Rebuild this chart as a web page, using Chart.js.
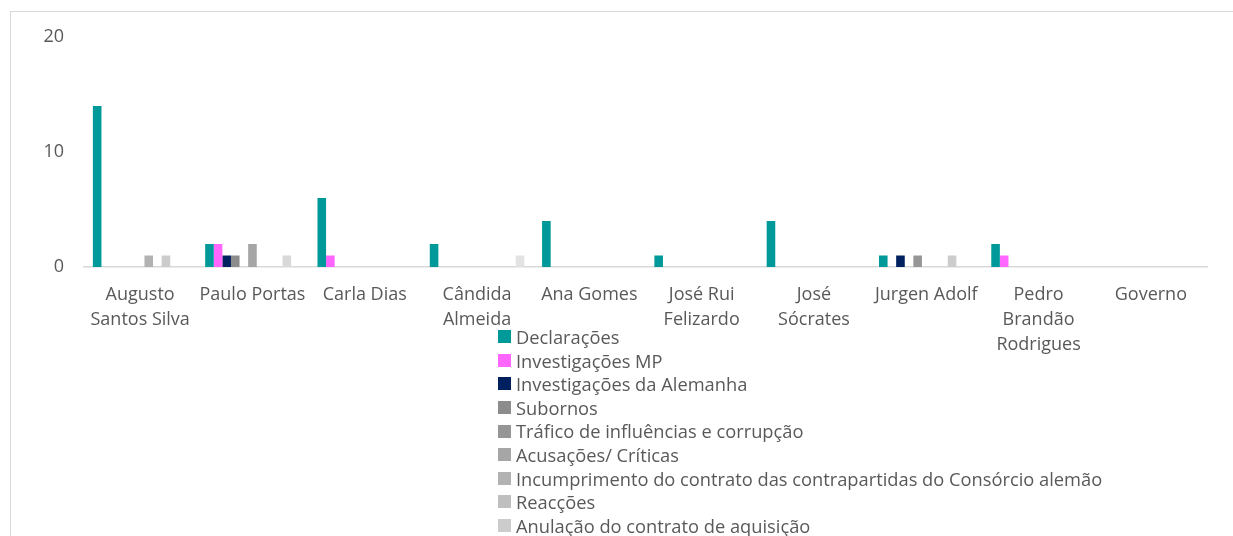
<!DOCTYPE html>
<html>
<head>
<meta charset="utf-8">
<script src="https://cdn.jsdelivr.net/npm/chart.js@4.4.1/dist/chart.umd.min.js"></script>
<style>
  html, body { margin: 0; padding: 0; background: #ffffff; overflow: hidden; }
  #wrap { position: relative; width: 1233px; height: 536px; overflow: hidden; }
  #frame { position: absolute; left: 10px; top: 11px; width: 2000px; height: 2000px; border-left: 1px solid #d9d9d9; border-top: 1px solid #d9d9d9; box-sizing: border-box; }
  #c { position: absolute; left: 0; top: 0; }
  #legend { position: absolute; left: 498px; top: 325px; font-family: "Open Sans", "Noto Sans", sans-serif; font-size: 18.3px; color: #595959; }
  .item { height: 23.6px; line-height: 23.6px; white-space: nowrap; display: flex; align-items: center; }
  .box { width: 13px; height: 13px; margin-right: 5px; flex: none; }
</style>
</head>
<body>
<div id="wrap">
  <div id="frame"></div>
  <canvas id="c" width="1233" height="536"></canvas>
  <div id="legend"></div>
</div>
<script>
// ---- data ----
const categories = [
  ["Augusto", "Santos Silva"], "Paulo Portas", "Carla Dias", ["Cândida", "Almeida"], "Ana Gomes",
  ["José Rui", "Felizardo"], ["José", "Sócrates"], "Jurgen Adolf", ["Pedro", "Brandão", "Rodrigues"], "Governo"
];
const seriesNames = [
  "Declarações", "Investigações MP", "Investigações da Alemanha", "Subornos",
  "Tráfico de influências e corrupção", "Acusações/ Críticas",
  "Incumprimento do contrato das contrapartidas do Consórcio alemão", "Reacções",
  "Anulação do contrato de aquisição", "Série 10", "Série 11"
];
const seriesColors = ["#009999", "#ff66ff", "#002060", "#8c8c8c", "#969696", "#a6a6a6", "#b2b2b2", "#bfbfbf", "#cccccc", "#d9d9d9", "#e3e3e3"];
const declaracoes      = [14, 2, 6, 2, 4, 1, 4, 1, 2, 0];
const investigacoesMP  = [0, 2, 1, 0, 0, 0, 0, 0, 1, 0];
const investAlemanha   = [0, 1, 0, 0, 0, 0, 0, 1, 0, 0];
const subornos         = [0, 1, 0, 0, 0, 0, 0, 0, 0, 0];
const trafico          = [0, 0, 0, 0, 0, 0, 0, 1, 0, 0];
const acusacoes        = [0, 2, 0, 0, 0, 0, 0, 0, 0, 0];
const incumprimento    = [1, 0, 0, 0, 0, 0, 0, 0, 0, 0];
const reaccoes         = [0, 0, 0, 0, 0, 0, 0, 0, 0, 0];
const anulacao         = [1, 0, 0, 0, 0, 0, 0, 1, 0, 0];
const serie10          = [0, 1, 0, 0, 0, 0, 0, 0, 0, 0];
const serie11          = [0, 0, 0, 1, 0, 0, 0, 0, 0, 0];
const seriesValues = [declaracoes, investigacoesMP, investAlemanha, subornos, trafico, acusacoes, incumprimento, reaccoes, anulacao, serie10, serie11];
const yTicks = [0, 10, 20];
const legendCount = 9;

// ---- chart ----
const FONT = '"Open Sans", "Noto Sans", sans-serif';
const TXT = '#595959';
const datasets = seriesNames.map((n, i) => ({
  label: n, data: seriesValues[i], backgroundColor: seriesColors[i],
  borderWidth: 0, categoryPercentage: 0.842, barPercentage: 1.0
}));

new Chart(document.getElementById('c'), {
  type: 'bar',
  data: { labels: categories, datasets },
  options: {
    responsive: false, animation: false,
    layout: { padding: { left: 0, right: 26, top: 37, bottom: 0 } },
    plugins: { legend: { display: false }, tooltip: { enabled: false } },
    scales: {
      x: {
        grid: { display: false, drawTicks: false },
        border: { display: true, color: '#d9d9d9', width: 1.5 },
        ticks: { autoSkip: false, maxRotation: 0, minRotation: 0, padding: 15, color: TXT, font: { family: FONT, size: 18, lineHeight: 1.39 } },
        afterFit: s => { s.height = 536 - 267; }
      },
      y: {
        min: 0, max: 20,
        grid: { display: false, drawTicks: false },
        border: { display: false },
        afterBuildTicks: s => { s.ticks = yTicks.map(v => ({ value: v })); },
        ticks: { padding: 20, color: TXT, font: { family: FONT, size: 18 } },
        afterFit: s => { s.width = 84; }
      }
    }
  }
});

// ---- legend (first entries, as in the reference) ----
const lg = document.getElementById('legend');
seriesNames.slice(0, legendCount).forEach((n, i) => {
  const it = document.createElement('div'); it.className = 'item';
  const b = document.createElement('span'); b.className = 'box'; b.style.background = seriesColors[i];
  const t = document.createElement('span'); t.textContent = n;
  it.appendChild(b); it.appendChild(t); lg.appendChild(it);
});
</script>
</body>
</html>
